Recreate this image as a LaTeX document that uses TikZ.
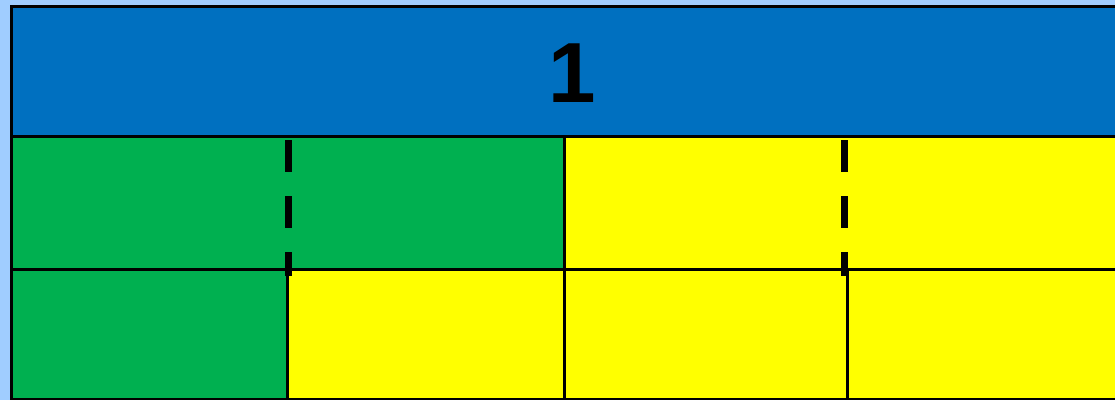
\documentclass[tikz,border=0pt]{standalone}
\usepackage{fontspec}
\setmainfont{Liberation Sans}
\usetikzlibrary{positioning}
\definecolor{skyback}{RGB}{160,205,255}
\definecolor{barblue}{RGB}{0,112,192}
\definecolor{partgreen}{RGB}{0,176,80}
\definecolor{partyellow}{RGB}{255,255,0}
\tikzset{
  gridline/.style={line width=2.25pt,black},
  cutline/.style={line width=5.25pt,black,dash pattern=on 24pt off 18pt},
  wholelabel/.style={font=\bfseries\fontsize{64}{64}\selectfont,inner sep=0pt}
}

\begin{document}
\begin{tikzpicture}[x=0.75pt,y=-0.75pt]
    \useasboundingbox (0,0) rectangle (1115,400);
    \fill[skyback] (0,0) rectangle (1115,400);

    % whole
    \fill[barblue] (11,6.5) rectangle (1115,136);
    \node[wholelabel] (whole) at (572,73) {1};

    % halves
    \fill[partgreen] (11,136) rectangle (564,269);
    \fill[partyellow] (564,136) rectangle (1115,269);

    % quarters
    \fill[partgreen] (11,269) rectangle (287,399.5);
    \fill[partyellow] (287,269) rectangle (1115,399.5);

    % grid
    \draw[gridline] (1115,6.5) -- (11,6.5) -- (11,399.5) -- (1115,399.5);
    \draw[gridline] (11,136) -- (1115,136);
    \draw[gridline] (11,269) -- (1115,269);
    \draw[gridline] (564,136) -- (564,399.5);
    \draw[gridline] (287,269) -- (287,399.5);
    \draw[gridline] (847.5,269) -- (847.5,399.5);

    % cuts of the halves
    \draw[cutline] (288.5,140) -- (288.5,276);
    \draw[cutline] (844,140) -- (844,276);
\end{tikzpicture}
\end{document}
